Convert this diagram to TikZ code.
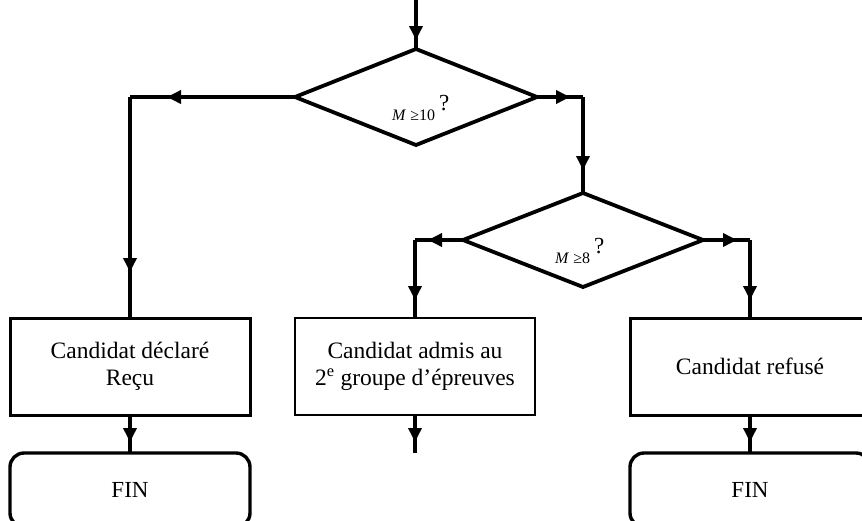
\documentclass[tikz,border=0pt]{standalone}
\usepackage{fontspec}
\setmainfont{Liberation Serif}
\usetikzlibrary{shapes.geometric,arrows.meta,decorations.markings}
\tikzset{
  conn/.style={line width=3.6pt},
  arr/.style={postaction={decorate},decoration={markings,mark=at position #1 with {\arrow{Triangle[length=14pt,width=13pt]}}}},
  decision/.style={diamond,draw,line width=3.8pt,inner sep=0pt,outer sep=0pt},
  procbox/.style={rectangle,draw,line width=3pt,minimum width=240pt,minimum height=97pt,inner sep=0pt,outer sep=0pt,align=center,font=\fontsize{23.5}{27}\selectfont},
  endbox/.style={rectangle,draw,line width=3.4pt,rounded corners=14pt,minimum width=240pt,minimum height=74pt,inner sep=0pt,outer sep=0pt,font=\fontsize{23}{27}\selectfont},
  cond/.style={inner sep=0pt,anchor=base west}
}
\newcommand{\qmark}{\hspace{4pt}\raisebox{10pt}{\fontsize{23}{23}\selectfont ?}}
\begin{document}
\begin{tikzpicture}[x=1pt,y=-1pt]
\useasboundingbox (0,0) rectangle (862,520);
\clip (0,0) rectangle (862,520);
% decisions
\node[decision,minimum width=242pt,minimum height=96pt] (d1) at (416,97) {};
\node[decision,minimum width=240pt,minimum height=94pt] (d2) at (583,240) {};
\node[cond] (t1) at (392,120) {\fontsize{16}{17}\selectfont\textit{M} ≥10\qmark};
\node[cond] (t2) at (555,263) {\fontsize{16}{17}\selectfont\textit{M} ≥8\qmark};
% boxes
\node[procbox] (b1) at (130,366.5) {Candidat déclaré\\Reçu};
\node[procbox,line width=2.8pt] (b2) at (415,366.5) {Candidat admis au\\2\textsuperscript{e} groupe d’épreuves};
\node[procbox] (b3) at (750,366.5) {Candidat refusé};
\node[endbox] (f1) at (130,490) {FIN};
\node[endbox] (f2) at (750,490) {FIN};
% coordinates
\coordinate (s0) at (416,0);
\coordinate (c1) at (130,97);
\coordinate (c2) at (583,97);
\coordinate (c3) at (415,240);
\coordinate (c4) at (750,240);
\coordinate (e2) at (415,453);
% connectors
\draw[conn,arr=40pt] (s0) -- (d1.north);
\draw[conn,arr=128pt] (d1.west) -- (c1);
\draw[conn,arr=175pt] (c1) -- (b1.north);
\draw[conn,arr=33pt] (d1.east) -- (c2);
\draw[conn,arr=73pt] (c2) -- (d2.north);
\draw[conn,arr=35pt] (d2.west) -- (c3);
\draw[conn,arr=60pt] (c3) -- (b2.north);
\draw[conn,arr=34pt] (d2.east) -- (c4);
\draw[conn,arr=60pt] (c4) -- (b3.north);
\draw[conn,arr=27pt] (b1.south) -- (f1.north);
\draw[conn,arr=27pt] (b2.south) -- (e2);
\draw[conn,arr=27pt] (b3.south) -- (f2.north);
\end{tikzpicture}
\end{document}
